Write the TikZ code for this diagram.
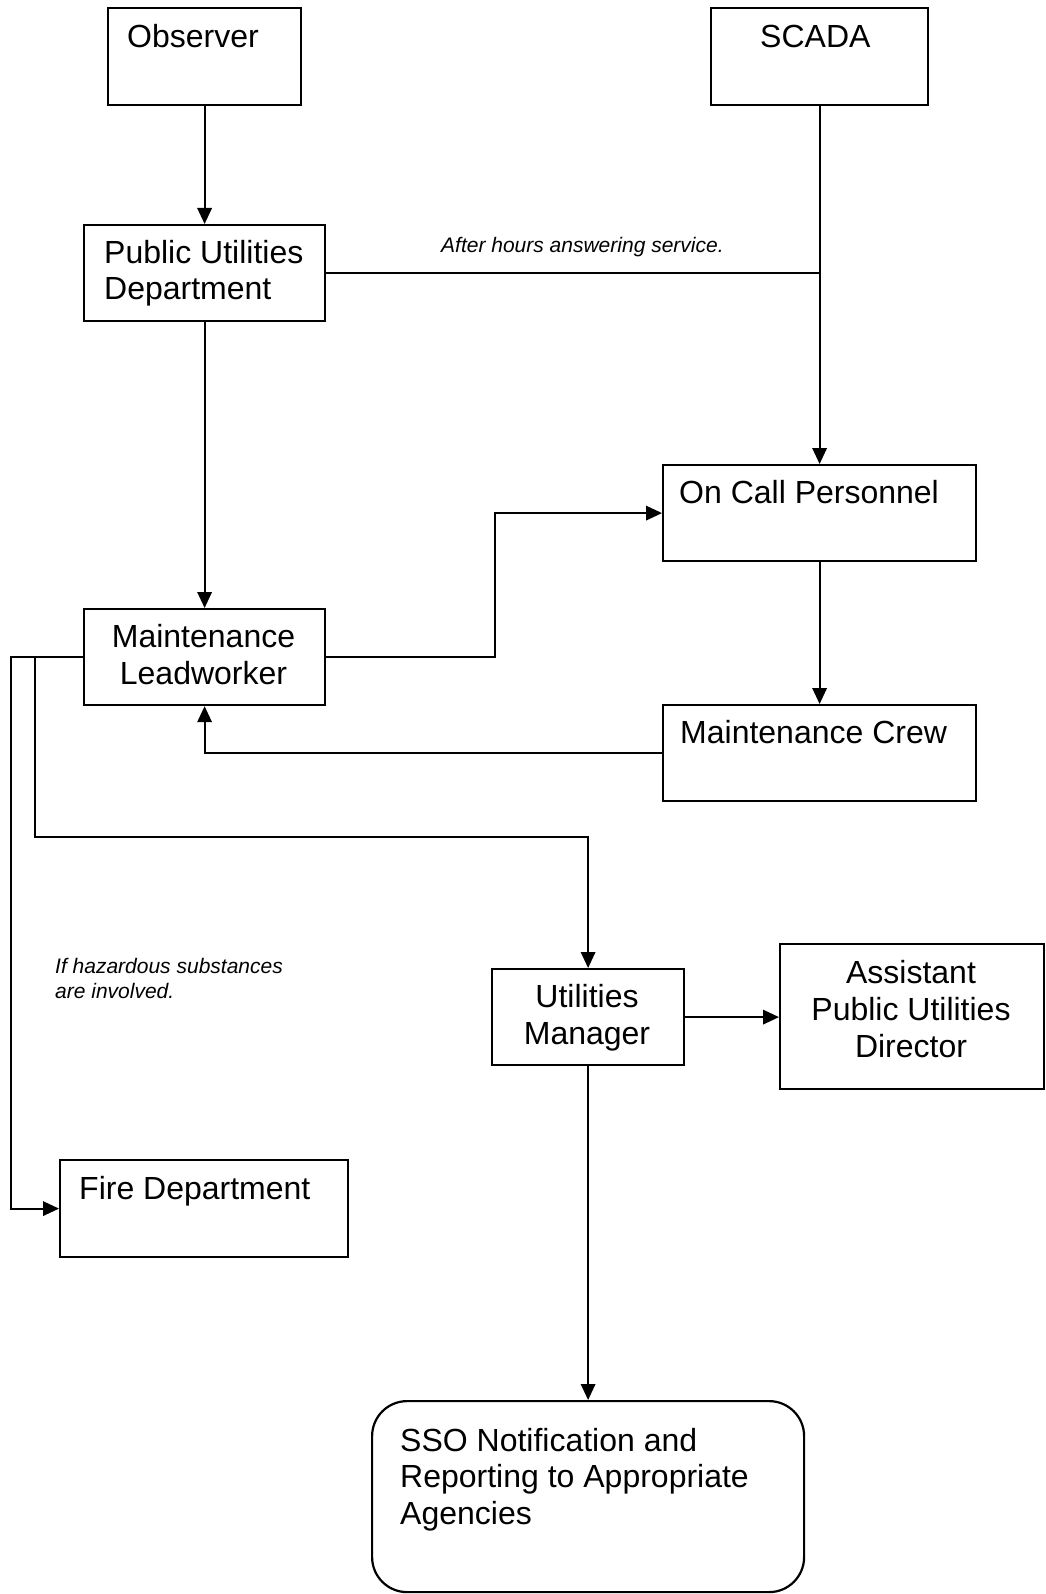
\documentclass[tikz,border=0pt]{standalone}
\usepackage{fontspec}
\setmainfont{Liberation Sans}
\usetikzlibrary{arrows.meta}
\begin{document}
\begin{tikzpicture}[x=1pt,y=-1pt,
  box/.style={draw,line width=2.2pt,inner sep=0pt,anchor=north west},
  txt/.style={inner sep=0pt,font=\fontsize{32}{36.8}\selectfont},
  note/.style={inner sep=0pt,align=left,font=\fontsize{21}{25}\selectfont\itshape},
  link/.style={line width=1.8pt},
  arr/.style={link,-{Triangle[length=16pt,width=14.5pt]}}]
\useasboundingbox (0,0) rectangle (1045,1594);
% boxes
\node[box,minimum width=193pt,minimum height=97pt] (obs) at (107,7) {};
\node[box,minimum width=217pt,minimum height=97pt] (scada) at (710,7) {};
\node[box,minimum width=241pt,minimum height=96pt] (pud) at (83,224) {};
\node[box,minimum width=313pt,minimum height=96pt] (ocp) at (662,464) {};
\node[box,minimum width=241pt,minimum height=96pt] (ml) at (83,608) {};
\node[box,minimum width=313pt,minimum height=96pt] (mc) at (662,704) {};
\node[box,minimum width=192pt,minimum height=96pt] (um) at (491,968) {};
\node[box,minimum width=264pt,minimum height=145pt] (apud) at (779,943) {};
\node[box,minimum width=288pt,minimum height=97pt] (fd) at (59,1159) {};
\node[box,rounded corners=35pt,minimum width=432pt,minimum height=191pt] (sso) at (371,1400) {};
% texts (base anchor = baseline of the last line)
\node[txt,anchor=base west] (tobs) at (127,48) {Observer};
\node[txt,anchor=base west] (tscada) at (760,48) {SCADA};
\node[txt,anchor=base west,align=left] (tpud) at (104,300) {Public Utilities\\Department};
\node[txt,anchor=base west] (tocp) at (679,503) {On Call Personnel};
\node[txt,anchor=base,align=center] (tml) at (203.5,684) {Maintenance\\Leadworker};
\node[txt,anchor=base west] (tmc) at (680,743) {Maintenance Crew};
\node[txt,anchor=base,align=center] (tum) at (587,1044) {Utilities\\Manager};
\node[txt,anchor=base,align=center] (tapud) at (911,1057) {Assistant\\Public Utilities\\Director};
\node[txt,anchor=base west] (tfd) at (79,1199) {Fire Department};
\node[txt,anchor=base west,align=left] (tsso) at (400,1524.6) {SSO Notification and\\Reporting to Appropriate\\Agencies};
\node[note,anchor=base west] (lafter) at (441,253) {After hours answering service.};
\node[note,anchor=base west] (lhaz) at (55,998) {If hazardous substances\\are involved.};
% connectors
\draw[arr] (obs) -- (pud);
\draw[arr] (scada) -- (ocp);
\draw[link] (pud.east) -- (pud.east -| scada);
\draw[arr] (pud) -- (ml);
\draw[arr] (ml.east) -- ++(169,0) |- (ocp.west);
\draw[arr] (ocp) -- (mc);
\draw[arr] (mc.west) -| (ml.south);
\draw[arr] (ml.west) -- ++(-72,0) |- (fd.west);
\path (ml.west) ++(-48,0) coordinate (j2);
\draw[arr] (j2) -- ++(0,180) -| (um.north);
\draw[arr] (um.east) -- (um.east -| apud.west);
\draw[arr] (um) -- (sso);
\end{tikzpicture}
\end{document}
